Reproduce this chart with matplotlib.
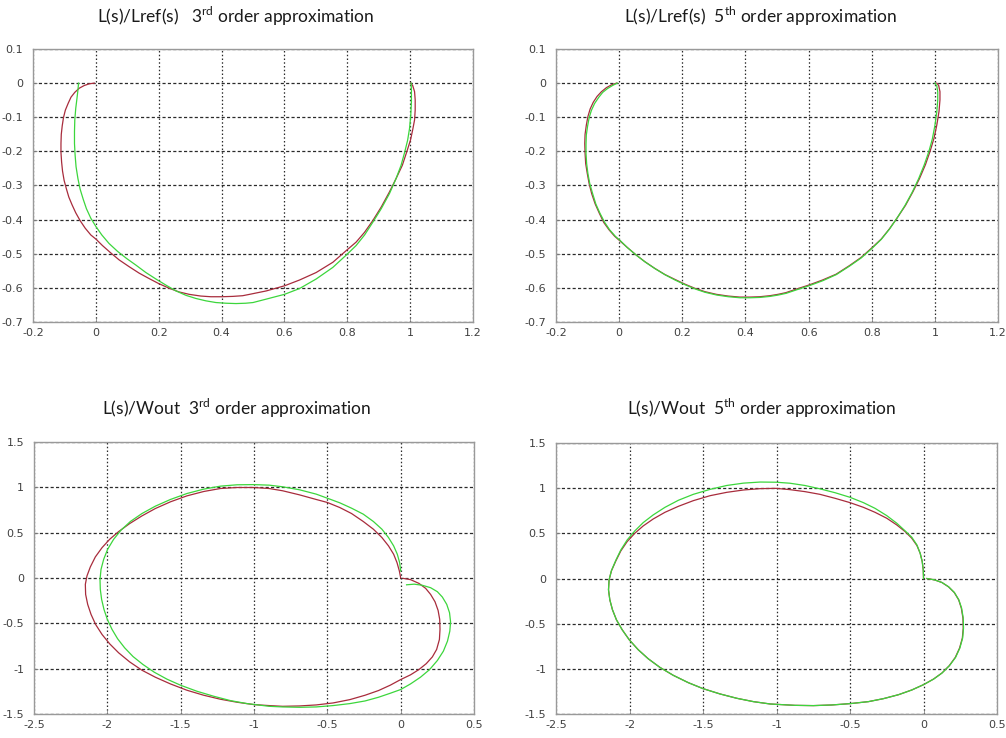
import matplotlib.pyplot as plt

plt.rcParams['axes.unicode_minus'] = False
plt.rcParams['mathtext.fontset'] = 'custom'
plt.rcParams['mathtext.rm'] = 'Lato'

# ---- L(s)/Lref(s), 3rd order ----
lref3_exact_x = [-0.005, -0.021, -0.037, -0.053, -0.067, -0.079, -0.088, -0.097, -0.103, -0.107,
                 -0.110, -0.111, -0.111, -0.109, -0.106, -0.101, -0.094, -0.086, -0.076, -0.064,
                 -0.050, -0.034, -0.016, 0.0, 0.021, 0.048, 0.074, 0.106, 0.138, 0.170,
                 0.199, 0.233, 0.265, 0.297, 0.334, 0.366, 0.400, 0.435, 0.467, 0.489,
                 0.542, 0.600, 0.648, 0.701, 0.754, 0.800, 0.828, 0.855, 0.881, 0.908,
                 0.934, 0.955, 0.975, 0.990, 1.001, 1.008, 1.014, 1.016, 1.016, 1.014,
                 1.008, 1.002]
lref3_exact_y = [0.0, -0.002, -0.007, -0.015, -0.027, -0.041, -0.059, -0.079, -0.101, -0.125,
                 -0.150, -0.177, -0.203, -0.231, -0.258, -0.285, -0.309, -0.334, -0.356, -0.380,
                 -0.403, -0.425, -0.445, -0.457, -0.476, -0.498, -0.518, -0.538, -0.557, -0.573,
                 -0.587, -0.601, -0.612, -0.619, -0.624, -0.626, -0.626, -0.625, -0.623, -0.619,
                 -0.609, -0.594, -0.577, -0.555, -0.525, -0.488, -0.466, -0.437, -0.403, -0.363,
                 -0.319, -0.280, -0.241, -0.199, -0.167, -0.137, -0.108, -0.079, -0.049, -0.025,
                 -0.007, 0.0]
lref3_approx_x = [-0.055, -0.057, -0.060, -0.064, -0.067, -0.068, -0.068, -0.066, -0.063, -0.057,
                  -0.050, -0.040, -0.030, -0.016, 0.0, 0.019, 0.042, 0.069, 0.098, 0.127,
                  0.159, 0.191, 0.223, 0.255, 0.287, 0.318, 0.350, 0.382, 0.414, 0.446,
                  0.477, 0.500, 0.542, 0.600, 0.648, 0.701, 0.754, 0.800, 0.828, 0.855,
                  0.881, 0.908, 0.934, 0.955, 0.971, 0.983, 0.992, 0.998, 1.002, 1.004,
                  1.004, 1.003]
lref3_approx_y = [0.0, -0.020, -0.044, -0.074, -0.108, -0.142, -0.177, -0.211, -0.245, -0.280,
                  -0.311, -0.341, -0.368, -0.396, -0.420, -0.445, -0.470, -0.493, -0.514, -0.533,
                  -0.555, -0.574, -0.592, -0.609, -0.622, -0.631, -0.638, -0.643, -0.645, -0.646,
                  -0.645, -0.643, -0.633, -0.619, -0.602, -0.574, -0.540, -0.501, -0.476, -0.445,
                  -0.408, -0.368, -0.324, -0.280, -0.241, -0.201, -0.167, -0.133, -0.093, -0.054,
                  -0.020, 0.0]

# ---- L(s)/Lref(s), 5th order ----
lref5_exact_x = [-0.008, -0.024, -0.040, -0.056, -0.070, -0.082, -0.092, -0.099, -0.104, -0.108,
                 -0.109, -0.108, -0.106, -0.101, -0.095, -0.087, -0.076, -0.063, -0.049, -0.032,
                 -0.014, 0.002, 0.025, 0.053, 0.081, 0.113, 0.145, 0.176, 0.208, 0.239,
                 0.271, 0.308, 0.345, 0.382, 0.414, 0.445, 0.477, 0.503, 0.528, 0.560,
                 0.600, 0.644, 0.687, 0.729, 0.766, 0.800, 0.830, 0.856, 0.882, 0.907,
                 0.930, 0.951, 0.970, 0.985, 0.997, 1.006, 1.013, 1.016, 1.016, 1.012,
                 1.006]
lref5_exact_y = [0.0, -0.005, -0.013, -0.025, -0.039, -0.056, -0.076, -0.098, -0.123, -0.150,
                 -0.177, -0.206, -0.236, -0.265, -0.295, -0.324, -0.354, -0.381, -0.408, -0.430,
                 -0.449, -0.462, -0.481, -0.503, -0.523, -0.543, -0.561, -0.575, -0.589, -0.601,
                 -0.611, -0.619, -0.624, -0.627, -0.627, -0.626, -0.623, -0.619, -0.614, -0.604,
                 -0.592, -0.577, -0.560, -0.535, -0.511, -0.483, -0.457, -0.427, -0.393, -0.358,
                 -0.319, -0.280, -0.239, -0.199, -0.162, -0.123, -0.083, -0.049, -0.025, -0.007,
                 0.0]
lref5_approx_x = [-0.006, -0.021, -0.037, -0.052, -0.065, -0.078, -0.088, -0.095, -0.100, -0.104,
                  -0.105, -0.105, -0.103, -0.099, -0.093, -0.084, -0.074, -0.061, -0.046, -0.030,
                  -0.012, 0.004, 0.026, 0.054, 0.082, 0.114, 0.146, 0.177, 0.209, 0.240,
                  0.272, 0.309, 0.346, 0.383, 0.415, 0.446, 0.478, 0.504, 0.529, 0.561,
                  0.601, 0.645, 0.688, 0.730, 0.767, 0.801, 0.830, 0.856, 0.881, 0.905,
                  0.928, 0.948, 0.966, 0.981, 0.992, 1.000, 1.006, 1.009, 1.009, 1.006,
                  1.000]
lref5_approx_y = [0.0, -0.007, -0.016, -0.027, -0.042, -0.060, -0.080, -0.101, -0.126, -0.152,
                  -0.179, -0.206, -0.236, -0.265, -0.295, -0.324, -0.354, -0.381, -0.408, -0.430,
                  -0.449, -0.462, -0.482, -0.504, -0.524, -0.544, -0.562, -0.577, -0.591, -0.603,
                  -0.613, -0.621, -0.626, -0.629, -0.629, -0.628, -0.625, -0.621, -0.616, -0.606,
                  -0.594, -0.579, -0.561, -0.536, -0.512, -0.484, -0.458, -0.428, -0.394, -0.359,
                  -0.320, -0.281, -0.240, -0.200, -0.163, -0.124, -0.084, -0.050, -0.026, -0.008,
                  0.0]

# ---- L(s)/Wout, 3rd order ----
wout3_exact_x = [0.0, -0.009, -0.025, -0.048, -0.083, -0.128, -0.186, -0.255, -0.335, -0.415,
                 -0.500, -0.576, -0.690, -0.805, -0.897, -1.002, -1.116, -1.229, -1.343, -1.457,
                 -1.570, -1.673, -1.764, -1.848, -1.923, -1.984, -2.036, -2.082, -2.116, -2.139,
                 -2.150, -2.148, -2.134, -2.111, -2.080, -2.036, -1.984, -1.923, -1.848, -1.764,
                 -1.673, -1.570, -1.457, -1.343, -1.229, -1.116, -1.002, -0.897, -0.805, -0.690,
                 -0.576, -0.461, -0.346, -0.243, -0.151, -0.071, 0.0, 0.067, 0.124, 0.174,
                 0.216, 0.245, 0.264, 0.268, 0.266, 0.255, 0.234, 0.204, 0.170, 0.124,
                 0.067, 0.016]
wout3_exact_y = [0.0, 0.077, 0.169, 0.262, 0.354, 0.446, 0.538, 0.623, 0.711, 0.777,
                 0.833, 0.866, 0.917, 0.962, 0.987, 0.998, 0.998, 0.987, 0.954, 0.906,
                 0.840, 0.766, 0.685, 0.600, 0.512, 0.427, 0.335, 0.232, 0.122, 0.022,
                 -0.070, -0.181, -0.291, -0.402, -0.512, -0.623, -0.726, -0.825, -0.925, -1.017,
                 -1.094, -1.168, -1.238, -1.293, -1.337, -1.370, -1.396, -1.407, -1.415, -1.411,
                 -1.400, -1.378, -1.341, -1.293, -1.241, -1.182, -1.120, -1.068, -1.010, -0.945,
                 -0.870, -0.788, -0.678, -0.567, -0.457, -0.357, -0.262, -0.181, -0.114, -0.059,
                 -0.018, -0.004]
wout3_approx_x = [0.0, -0.007, -0.023, -0.048, -0.083, -0.128, -0.186, -0.255, -0.335, -0.415,
                  -0.500, -0.576, -0.690, -0.805, -0.897, -1.002, -1.116, -1.229, -1.343, -1.457,
                  -1.570, -1.673, -1.764, -1.843, -1.907, -1.957, -1.998, -2.025, -2.043, -2.050,
                  -2.048, -2.039, -2.023, -2.000, -1.968, -1.930, -1.882, -1.825, -1.757, -1.680,
                  -1.593, -1.500, -1.389, -1.275, -1.161, -1.048, -0.897, -0.805, -0.690, -0.576,
                  -0.461, -0.346, -0.243, -0.151, -0.071, 0.0, 0.067, 0.135, 0.197, 0.250,
                  0.291, 0.319, 0.335, 0.340, 0.333, 0.314, 0.284, 0.250, 0.204, 0.147,
                  0.092, 0.040]
wout3_approx_y = [0.077, 0.169, 0.262, 0.354, 0.446, 0.538, 0.623, 0.704, 0.770, 0.829,
                  0.880, 0.925, 0.973, 1.006, 1.024, 1.030, 1.028, 1.013, 0.980, 0.932,
                  0.866, 0.792, 0.711, 0.623, 0.527, 0.427, 0.317, 0.206, 0.096, -0.015,
                  -0.125, -0.236, -0.346, -0.457, -0.567, -0.670, -0.770, -0.866, -0.954, -1.039,
                  -1.116, -1.183, -1.249, -1.304, -1.352, -1.385, -1.415, -1.422, -1.426, -1.422,
                  -1.407, -1.385, -1.356, -1.315, -1.271, -1.230, -1.168, -1.094, -1.010, -0.910,
                  -0.807, -0.696, -0.586, -0.483, -0.383, -0.291, -0.210, -0.151, -0.107, -0.080,
                  -0.068, -0.075]

# ---- L(s)/Wout, 5th order ----
wout5_exact_x = [0.0, -0.002, -0.009, -0.023, -0.045, -0.080, -0.125, -0.182, -0.250, -0.330,
                 -0.409, -0.500, -0.602, -0.705, -0.807, -0.909, -1.002, -1.111, -1.225, -1.339,
                 -1.452, -1.566, -1.668, -1.759, -1.839, -1.907, -1.964, -2.016, -2.059, -2.093,
                 -2.123, -2.139, -2.143, -2.134, -2.116, -2.089, -2.050, -2.002, -1.941, -1.873,
                 -1.793, -1.702, -1.600, -1.500, -1.384, -1.270, -1.157, -1.043, -0.875, -0.750,
                 -0.625, -0.500, -0.375, -0.273, -0.170, -0.080, 0.0, 0.068, 0.125, 0.175,
                 0.216, 0.245, 0.264, 0.270, 0.268, 0.257, 0.239, 0.209, 0.170, 0.125,
                 0.075, 0.023]
wout5_exact_y = [0.0, 0.096, 0.188, 0.280, 0.365, 0.446, 0.519, 0.593, 0.667, 0.733,
                 0.788, 0.840, 0.888, 0.932, 0.962, 0.984, 0.998, 0.995, 0.980, 0.954,
                 0.917, 0.862, 0.799, 0.733, 0.659, 0.582, 0.501, 0.409, 0.306, 0.195,
                 0.085, -0.015, -0.125, -0.236, -0.346, -0.457, -0.567, -0.678, -0.788, -0.888,
                 -0.984, -1.072, -1.153, -1.219, -1.278, -1.326, -1.363, -1.389, -1.404, -1.407,
                 -1.400, -1.385, -1.363, -1.330, -1.286, -1.234, -1.175, -1.113, -1.046, -0.965,
                 -0.873, -0.770, -0.659, -0.549, -0.438, -0.328, -0.236, -0.155, -0.092, -0.044,
                 -0.015, 0.0]
wout5_approx_x = [0.0, -0.002, -0.009, -0.023, -0.045, -0.080, -0.125, -0.182, -0.250, -0.330,
                  -0.409, -0.500, -0.602, -0.705, -0.807, -0.909, -1.002, -1.111, -1.225, -1.339,
                  -1.452, -1.566, -1.668, -1.759, -1.839, -1.907, -1.964, -2.016, -2.059, -2.093,
                  -2.123, -2.139, -2.143, -2.134, -2.116, -2.089, -2.050, -2.002, -1.941, -1.873,
                  -1.793, -1.702, -1.600, -1.500, -1.384, -1.270, -1.157, -1.043, -0.875, -0.750,
                  -0.625, -0.500, -0.375, -0.273, -0.170, -0.080, 0.0, 0.069, 0.126, 0.176,
                  0.218, 0.247, 0.266, 0.272, 0.270, 0.259, 0.240, 0.210, 0.171, 0.125,
                  0.075, 0.023]
wout5_approx_y = [0.0, 0.096, 0.188, 0.280, 0.372, 0.457, 0.527, 0.612, 0.696, 0.777,
                  0.840, 0.899, 0.950, 0.993, 1.030, 1.055, 1.066, 1.068, 1.056, 1.030,
                  0.987, 0.932, 0.866, 0.788, 0.704, 0.619, 0.527, 0.427, 0.317, 0.203,
                  0.088, -0.015, -0.125, -0.236, -0.346, -0.457, -0.567, -0.678, -0.788, -0.888,
                  -0.984, -1.072, -1.153, -1.219, -1.278, -1.326, -1.363, -1.389, -1.404, -1.407,
                  -1.400, -1.385, -1.363, -1.330, -1.286, -1.234, -1.175, -1.113, -1.046, -0.965,
                  -0.873, -0.770, -0.659, -0.549, -0.438, -0.328, -0.236, -0.155, -0.092, -0.044,
                  -0.015, 0.0]

lref_xticks = [-0.2, 0, 0.2, 0.4, 0.6, 0.8, 1, 1.2]
lref_yticks = [0.1, 0, -0.1, -0.2, -0.3, -0.4, -0.5, -0.6, -0.7]
wout_xticks = [-2.5, -2, -1.5, -1, -0.5, 0, 0.5]
wout_yticks = [1.5, 1, 0.5, 0, -0.5, -1, -1.5]

titles = [r'L(s)/Lref(s)   3$^{\mathrm{rd}}$ order approximation',
          r'L(s)/Lref(s)  5$^{\mathrm{th}}$ order approximation',
          r'L(s)/Wout  3$^{\mathrm{rd}}$ order approximation',
          r'L(s)/Wout  5$^{\mathrm{th}}$ order approximation']

RED = '#a82c3c'
GREEN = '#3cd63c'

fig = plt.figure(figsize=(10.06, 7.38), dpi=100)

panels = [
    ([0.0328, 0.5637, 0.4374, 0.3699], lref3_exact_x, lref3_exact_y, lref3_approx_x, lref3_approx_y,
     lref_xticks, lref_yticks, (-0.2, 1.2), (-0.7, 0.1)),
    ([0.5527, 0.5637, 0.4394, 0.3699], lref5_exact_x, lref5_exact_y, lref5_approx_x, lref5_approx_y,
     lref_xticks, lref_yticks, (-0.2, 1.2), (-0.7, 0.1)),
    ([0.0338, 0.0325, 0.4374, 0.3686], wout3_exact_x, wout3_exact_y, wout3_approx_x, wout3_approx_y,
     wout_xticks, wout_yticks, (-2.5, 0.5), (-1.5, 1.5)),
    ([0.5527, 0.0325, 0.4384, 0.3672], wout5_exact_x, wout5_exact_y, wout5_approx_x, wout5_approx_y,
     wout_xticks, wout_yticks, (-2.5, 0.5), (-1.5, 1.5)),
]

for rect, ex, ey, gx, gy, xt, yt, xl, yl in panels:
    ax = fig.add_axes(rect)
    ax.plot(ex, ey, color=RED, lw=0.9, solid_joinstyle='round', zorder=3)
    ax.plot(gx, gy, color=GREEN, lw=0.9, solid_joinstyle='round', zorder=4)
    ax.set_xlim(*xl)
    ax.set_ylim(*yl)
    ax.set_xticks(xt)
    ax.set_yticks(yt)
    ax.set_xticklabels(['%g' % v for v in xt])
    ax.set_yticklabels(['%g' % v for v in yt])
    ax.tick_params(direction='in', length=3, width=0.6, color='#888888',
                   labelsize=8, labelcolor='#404040')
    ax.tick_params(axis='x', pad=4)
    ax.tick_params(axis='y', pad=7)
    for s in ax.spines.values():
        s.set_color('#999999')
        s.set_linewidth(1.0)
    ax.xaxis.grid(True, color='#2a2a2a', lw=0.9, linestyle=(0, (1.2, 1.8)))
    ax.yaxis.grid(True, color='#2a2a2a', lw=0.9, linestyle=(0, (2.5, 1.8)))
    ax.set_axisbelow(True)

title_kw = dict(fontsize=12.5, family='Lato', color='#1a1a1a', ha='center', va='center')
fig.text(0.234, 0.978, titles[0], **title_kw)
fig.text(0.756, 0.978, titles[1], **title_kw)
fig.text(0.235, 0.447, titles[2], **title_kw)
fig.text(0.757, 0.447, titles[3], **title_kw)

fig.savefig('out.png', dpi=100)
